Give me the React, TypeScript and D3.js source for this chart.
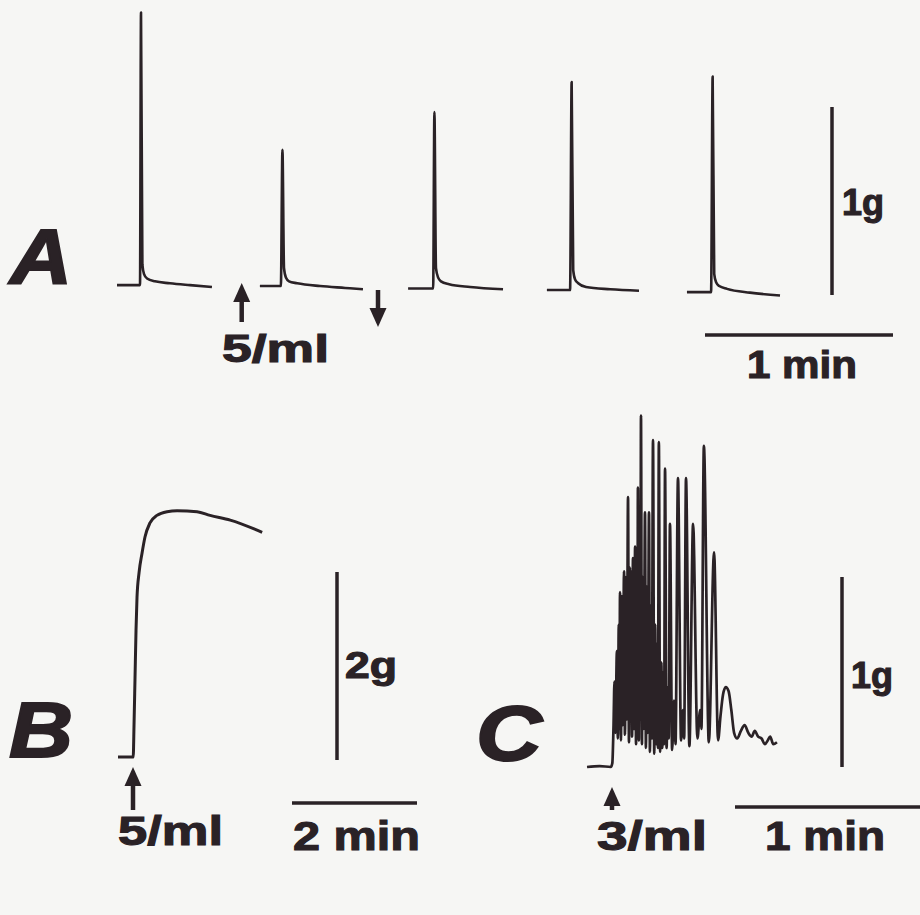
import React from "react";
import * as d3 from "d3";

// Panel A: five single twitches, time in s, tension in g
const twitchA1: [number, number][] = [
  [0, 0.01], [7.34, 0.01], [7.66, 1.46], [8.1, 0.12], [8.6, 0.07], [9.6, 0.045],
  [12.1, 0.03], [16.9, 0.02], [23.3, 0.01], [30.3, 0.0],
];
const twitchA2: [number, number][] = [
  [45.6, 0.005], [52.3, 0.005], [52.8, 0.73], [53.3, 0.1], [53.9, 0.05], [54.9, 0.03],
  [57.5, 0.02], [64.8, 0.005], [72.8, -0.005], [78.5, -0.012],
];
const twitchA3: [number, number][] = [
  [92.9, -0.008], [100.9, -0.008], [101.3, 0.93], [101.8, 0.1], [102.5, 0.05], [103.4, 0.03],
  [106, 0.015], [112.7, 0.0], [123.2, -0.012],
];
const twitchA4: [number, number][] = [
  [137.2, -0.016], [144.6, -0.016], [145.1, 1.09], [145.6, 0.09], [146.2, 0.04], [147.2, 0.02],
  [149.7, 0.0], [157.4, -0.012], [166.6, -0.02],
];
const twitchA5: [number, number][] = [
  [181.9, -0.027], [189.6, -0.027], [190.1, 1.12], [190.6, 0.07], [191.2, 0.025], [192.2, 0.005],
  [194.7, -0.01], [202, -0.03], [211.6, -0.045],
];
const twitchesA = [twitchA1, twitchA2, twitchA3, twitchA4, twitchA5];
const arrowsA = [{ t: 39.8, dir: "up" }, { t: 83.3, dir: "down" }];

// Panel B: sustained contracture
const contractureB: [number, number][] = [
  [-14.4, 0], [0.2, 0], [1.0, 0.35], [1.9, 0.82], [2.9, 1.35], [3.85, 1.7], [5.8, 1.96],
  [8.7, 2.17], [11.5, 2.34], [16.3, 2.49], [23, 2.57], [32.7, 2.61], [42.3, 2.62],
  [61.5, 2.61], [74, 2.57], [93.3, 2.52], [124, 2.39],
];

// Panel C: rhythmic contractions
const rhythmC: [number, number][] = [
  [-8.1, 0.0], [-4, 0.005], [-0.4, 0.0], [0.1, 0.02], [0.5, 0.22], [0.8, 0.45], [1.1, 0.18],
  [1.6, 0.61], [1.9, 0.15], [2.2, 0.75], [2.4, 0.2], [2.6, 0.92], [2.9, 0.14], [3.2, 0.9],
  [3.5, 0.22], [3.9, 1.03], [4.2, 0.17], [4.5, 1.0], [4.8, 0.25], [5.2, 1.42], [5.5, 0.13],
  [5.8, 1.05], [6.0, 0.3], [6.2, 1.03], [6.5, 0.16], [6.8, 1.1], [7.1, 0.2], [7.5, 1.16],
  [7.8, 0.12], [8.1, 1.05], [8.25, 0.3], [8.4, 1.47], [8.7, 0.14], [9.0, 1.05], [9.2, 0.25],
  [9.4, 1.85], [9.7, 0.12], [10.0, 1.0], [10.3, 0.2], [10.7, 1.34], [11.0, 0.1], [11.3, 0.95],
  [11.6, 0.18], [12.0, 1.34], [12.3, 0.08], [12.6, 0.85], [12.9, 0.15], [13.3, 1.72],
  [13.7, 0.07], [14.0, 0.75], [14.3, 0.12], [14.6, 0.65], [14.9, 0.1], [15.2, 1.71],
  [15.6, 0.08], [16.0, 0.55], [16.3, 0.1], [16.6, 0.5], [16.9, 0.12], [17.2, 1.57],
  [17.7, 0.1], [18.1, 0.42], [18.4, 0.15], [18.8, 1.28], [19.5, 0.09], [20.1, 0.35],
  [20.6, 0.12], [21.4, 1.52], [22.4, 0.14], [23.0, 0.3], [23.4, 0.15], [24.0, 1.52],
  [25.1, 0.11], [26.3, 1.28], [27.7, 0.15], [28.6, 0.3], [29.0, 0.2], [29.8, 1.69],
  [31.4, 0.13], [33.1, 1.13], [34.4, 0.14], [35.2, 0.27], [36.0, 0.38], [36.9, 0.42],
  [37.8, 0.4], [38.7, 0.3], [39.6, 0.18], [40.6, 0.15], [41.8, 0.19], [43.0, 0.22],
  [44.2, 0.18], [45.3, 0.16], [46.3, 0.19], [47.4, 0.16], [48.5, 0.15], [49.6, 0.12],
  [50.5, 0.14], [51.3, 0.16], [52.3, 0.12], [53.5, 0.13],
];

const INK = "#2a2226";
const FONT = "'Liberation Sans', Arial, Helvetica, sans-serif";

// scales
const xA = d3.scaleLinear().domain([0, 60]).range([117, 305]);
const yA = d3.scaleLinear().domain([0, 1]).range([287, 99]);
const xB = d3.scaleLinear().domain([0, 120]).range([133, 258]);
const yB = d3.scaleLinear().domain([0, 2]).range([757, 569]);
const xC = d3.scaleLinear().domain([0, 60]).range([612, 797]);
const yC = d3.scaleLinear().domain([0, 1]).range([767, 577]);

const mkLine = (x: d3.ScaleLinear<number, number>, y: d3.ScaleLinear<number, number>) =>
  d3.line<[number, number]>().x((d) => x(d[0])).y((d) => y(d[1])).curve(d3.curveMonotoneX);

function Arrow({ x, tip, tail, up }: { x: number; tip: number; tail: number; up: boolean }) {
  const h = 19;
  const w = 8.5;
  const s = up ? 1 : -1;
  const head = `M${x},${tip} L${x - w},${tip + s * h} L${x + w},${tip + s * h} Z`;
  return (
    <g>
      <line x1={x} x2={x} y1={tip + s * (h - 2)} y2={tail} stroke={INK} strokeWidth={4.5} />
      <path d={head} fill={INK} />
    </g>
  );
}

function Label({ x, y, size, len, children }: { x: number; y: number; size: number; len: number; children: React.ReactNode }) {
  return (
    <text x={x} y={y} fontFamily={FONT} fontWeight="bold" fontSize={size} fill={INK}
      stroke={INK} strokeWidth={1.1} textLength={len} lengthAdjust="spacingAndGlyphs">
      {children}
    </text>
  );
}

function Letter({ x, y, ch, len }: { x: number; y: number; ch: string; len: number }) {
  return (
    <text x={x} y={y} fontFamily={FONT} fontWeight="bold" fontStyle="italic" fontSize={78}
      fill={INK} stroke={INK} strokeWidth={2} textLength={len} lengthAdjust="spacingAndGlyphs">
      {ch}
    </text>
  );
}

export default function App() {
  const lineA = mkLine(xA, yA);
  const lineB = mkLine(xB, yB);
  const lineC = mkLine(xC, yC);
  const minA = xA(60) - xA(0);
  const minB = xB(120) - xB(0);
  const minC = xC(60) - xC(0);
  return (
    <svg width={920} height={915} style={{ position: "absolute", left: 0, top: 0, background: "#f6f6f4" }}>
      <rect width={920} height={915} fill="#f6f6f4" />

      {/* A */}
      <Letter x={10} y={284} ch="A" len={62} />
      {twitchesA.map((tw, i) => (
        <path key={i} d={lineA(tw) || ""} fill="none" stroke={INK} strokeWidth={2.6} strokeLinejoin="round" />
      ))}
      <Arrow x={xA(arrowsA[0].t)} tip={283} tail={322} up={true} />
      <Arrow x={xA(arrowsA[1].t)} tip={327} tail={290} up={false} />
      <Label x={222} y={362} size={39} len={107}>5/ml</Label>
      <line x1={832} x2={832} y1={yA(0) + 8} y2={yA(1) + 8} stroke={INK} strokeWidth={3.5} />
      <Label x={842} y={215} size={36} len={42}>1g</Label>
      <line x1={705} x2={705 + minA} y1={335} y2={335} stroke={INK} strokeWidth={3.5} />
      <Label x={747} y={378} size={38} len={110}>1 min</Label>

      {/* B */}
      <Letter x={9} y={757} ch="B" len={64} />
      <path d={lineB(contractureB) || ""} fill="none" stroke={INK} strokeWidth={3} strokeLinejoin="round" />
      <Arrow x={xB(0)} tip={767} tail={810} up={true} />
      <Label x={118} y={845} size={40} len={105}>5/ml</Label>
      <line x1={337} x2={337} y1={yB(0) + 3} y2={yB(2) + 3} stroke={INK} strokeWidth={3.5} />
      <Label x={345} y={678} size={36} len={52}>2g</Label>
      <line x1={292} x2={292 + minB} y1={803} y2={803} stroke={INK} strokeWidth={3.5} />
      <Label x={293} y={850} size={40} len={127}>2 min</Label>

      {/* C */}
      <Letter x={476} y={760} ch="C" len={66} />
      <path d={lineC(rhythmC) || ""} fill="none" stroke={INK} strokeWidth={2.7} strokeLinejoin="round" />
      <Arrow x={xC(0)} tip={787} tail={810} up={true} />
      <Label x={597} y={850} size={40} len={110}>3/ml</Label>
      <line x1={842} x2={842} y1={yC(0)} y2={yC(1)} stroke={INK} strokeWidth={3.5} />
      <Label x={851} y={688} size={36} len={42}>1g</Label>
      <line x1={735} x2={735 + minC} y1={807} y2={807} stroke={INK} strokeWidth={3.5} />
      <Label x={765} y={850} size={40} len={120}>1 min</Label>
    </svg>
  );
}
